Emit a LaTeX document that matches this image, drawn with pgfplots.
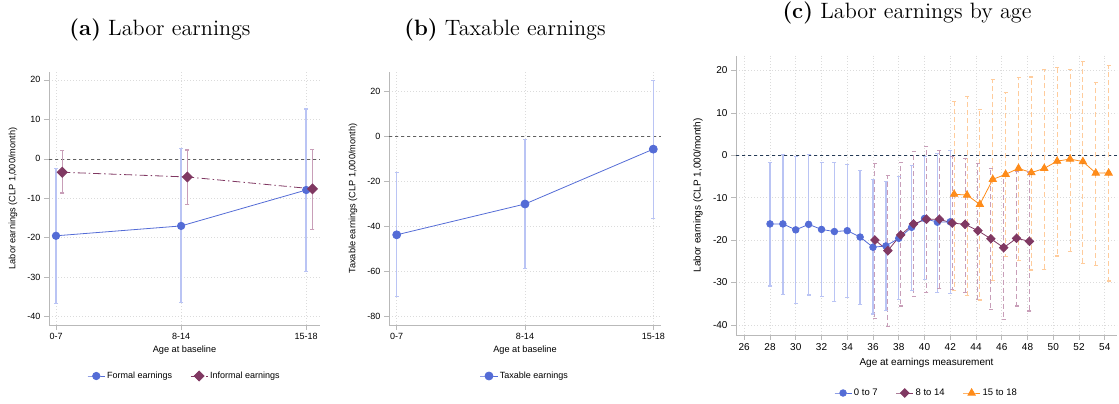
\documentclass[border=0pt]{standalone}
\usepackage{graphicx}
\usepackage{pgfplots}
\pgfplotsset{compat=1.18}
\usepackage{pgfplotstable}
\usepackage{fontspec}
\newfontfamily\lib{Liberation Sans}

\definecolor{sblue}{RGB}{84,108,214}
\definecolor{sbluec}{RGB}{186,196,244}
\definecolor{spurp}{RGB}{128,56,98}
\definecolor{spurpc}{RGB}{200,158,184}
\definecolor{sorng}{RGB}{255,140,26}
\definecolor{sorngc}{RGB}{255,204,156}
\definecolor{snavy}{RGB}{36,58,86}

\pgfplotstableread{
x y lo hi
0 -19.5 -36.5 -2.3
1 -17.0 -36.4 2.6
2 -7.9 -28.4 12.7
}\formal
\pgfplotstableread{
x y lo hi
0.05 -3.4 -8.6 2.1
1.05 -4.6 -11.5 2.3
2.05 -7.6 -17.8 2.5
}\informal
\pgfplotstableread{
x y lo hi
0 -43.6 -71.1 -15.6
1 -29.9 -58.5 -1.3
2 -5.5 -36.1 25.2
}\taxable
\pgfplotstableread{
x y lo hi
28 -16.2 -30.8 -1.7
29 -16.2 -32.7 0.3
30 -17.6 -34.9 -0.2
31 -16.3 -32.9 0.2
32 -17.5 -33.2 -1.7
33 -18.0 -34.5 -1.7
34 -17.8 -33.5 -2.1
35 -19.3 -35.1 -3.5
36 -21.7 -37.4 -5.7
37 -21.4 -36.5 -6.2
38 -19.6 -34.0 -5.0
39 -17.0 -31.8 -2.3
40 -14.9 -29.3 -0.3
41 -15.8 -32.4 0.5
42 -15.7 -32.5 1.2
}\agea
\pgfplotstableread{
x y lo hi
36.15 -20.0 -38.4 -1.9
37.15 -22.5 -40.3 -4.7
38.15 -18.8 -35.5 -1.7
39.15 -16.2 -33.3 1.0
40.15 -15.1 -32.4 2.2
41.15 -15.1 -31.4 1.1
42.15 -16.0 -31.6 -0.3
43.15 -16.3 -32.3 -0.7
44.15 -17.8 -33.9 -1.9
45.15 -19.7 -36.4 -3.1
46.15 -21.8 -38.7 -4.9
47.15 -19.6 -35.5 -3.7
48.15 -20.3 -36.7 -3.9
}\ageb
\pgfplotstableread{
x y lo hi
42.3 -9.2 -31.8 12.7
43.3 -9.4 -33.0 14.0
44.3 -11.6 -34.1 10.8
45.3 -5.7 -29.4 17.9
46.3 -4.5 -23.9 14.9
47.3 -3.1 -24.7 18.3
48.3 -4.1 -27.0 18.5
49.3 -3.1 -26.8 20.3
50.3 -1.4 -23.7 20.7
51.3 -0.9 -22.6 20.3
52.3 -1.5 -25.5 22.1
53.3 -4.2 -25.9 17.2
54.3 -4.2 -29.6 21.3
}\agec

\pgfplotsset{
  stata/.style={
    scale only axis,
    axis x line*=bottom, axis y line*=left,
    axis line style={gray!55, line width=0.6pt, -},
    tick style={gray!55, line width=0.6pt},
    tick align=outside, major tick length=5pt,
    grid=major, major grid style={dash pattern=on 0.7pt off 2.3pt, gray!28, line width=0.6pt},
    /pgf/number format/assume math mode=true,
    legend style={draw=none, fill=none, legend columns=-1, anchor=center,
      /tikz/every even column/.append style={column sep=16pt}},
    legend cell align=left,
    clip=false,
  },
  ci/.style={forget plot, only marks, mark=none,
    error bars/.cd, y dir=both, y explicit},
  cap/.style={forget plot, only marks, mark=-, mark size=2pt, mark options={solid, draw=#1, line width=0.7pt}},
}

\begin{document}
\begin{tikzpicture}
\useasboundingbox (0,0) rectangle (1119pt,404pt);

% ---------- Panel (a)
\begin{axis}[stata, at={(49pt,79pt)}, anchor=south west,
  width=271pt, height=253pt,
  xmin=-0.056, xmax=2.11, ymin=-42.1, ymax=22,
  xtick={0,1,2}, xticklabels={0-7,8-14,15-18},
  ytick={-40,-30,...,20},
  ticklabel style={font=\lib\fontsize{9}{10}\selectfont},
  xlabel={Age at baseline}, ylabel={Labor earnings (CLP 1,000/month)},
  label style={font=\lib\fontsize{9.2}{10}\selectfont},
  xlabel style={at={(axis description cs:0.5,-0.099)}, anchor=center},
  ylabel style={at={(axis description cs:-0.133,0.5)}, anchor=center},
  legend style={at={(0.5,-0.2016)}, font=\lib\fontsize{9}{10}\selectfont},
]
\addplot[forget plot, dashed, gray!75!black, line width=0.6pt] coordinates {(-0.056,0) (2.11,0)};
\addplot[ci, error bar style={sbluec, line width=1.6pt}] table[x=x, y=y, y error plus expr=\thisrow{hi}-\thisrow{y}, y error minus expr=\thisrow{y}-\thisrow{lo}] {\formal};
\addplot[cap=sbluec] table[x=x,y=hi] {\formal};
\addplot[cap=sbluec] table[x=x,y=lo] {\formal};
\addplot[ci, error bar style={spurpc, line width=0.9pt}] table[x=x, y=y, y error plus expr=\thisrow{hi}-\thisrow{y}, y error minus expr=\thisrow{y}-\thisrow{lo}] {\informal};
\addplot[cap=spurpc] table[x=x,y=hi] {\informal};
\addplot[cap=spurpc] table[x=x,y=lo] {\informal};
\addplot[sblue, line width=0.8pt, mark=*, mark size=3.7pt, mark options={fill=sblue, draw=sblue}] table[x=x,y=y] {\formal};
\addlegendentry{Formal earnings}
\addplot[spurp, line width=0.8pt, dash pattern=on 8pt off 3pt on 1.5pt off 3pt, mark=square*, mark size=3.5pt, mark options={rotate=45, solid, fill=spurp, draw=spurp}] table[x=x,y=y] {\informal};
\addlegendentry{Informal earnings}
\end{axis}

% ---------- Panel (b)
\begin{axis}[stata, at={(389pt,79pt)}, anchor=south west,
  width=272pt, height=253pt,
  xmin=-0.06, xmax=2.06, ymin=-83.7, ymax=28.8,
  xtick={0,1,2}, xticklabels={0-7,8-14,15-18},
  ytick={-80,-60,...,20},
  ticklabel style={font=\lib\fontsize{9}{10}\selectfont},
  xlabel={Age at baseline}, ylabel={Taxable earnings (CLP 1,000/month)},
  label style={font=\lib\fontsize{9.2}{10}\selectfont},
  xlabel style={at={(axis description cs:0.5,-0.099)}, anchor=center},
  ylabel style={at={(axis description cs:-0.132,0.5)}, anchor=center},
  legend style={at={(0.5,-0.2016)}, font=\lib\fontsize{9}{10}\selectfont},
]
\addplot[forget plot, dashed, gray!75!black, line width=0.6pt] coordinates {(-0.06,0) (2.06,0)};
\addplot[ci, error bar style={sbluec, line width=1.2pt}] table[x=x, y=y, y error plus expr=\thisrow{hi}-\thisrow{y}, y error minus expr=\thisrow{y}-\thisrow{lo}] {\taxable};
\addplot[cap=sbluec] table[x=x,y=hi] {\taxable};
\addplot[cap=sbluec] table[x=x,y=lo] {\taxable};
\addplot[sblue, line width=0.8pt, mark=*, mark size=4pt, mark options={fill=sblue, draw=sblue}] table[x=x,y=y] {\taxable};
\addlegendentry{Taxable earnings}
\end{axis}

% ---------- Panel (c)
\begin{axis}[stata, at={(736pt,69pt)}, anchor=south west,
  width=381pt, height=279.4pt,
  xmin=25.36, xmax=54.95, ymin=-42.4, ymax=23.5,
  xtick={26,28,...,54},
  ytick={-40,-30,...,20},
  ticklabel style={font=\lib\fontsize{10}{11}\selectfont},
  xlabel={Age at earnings measurement}, ylabel={Labor earnings (CLP 1,000/month)},
  label style={font=\lib\fontsize{10}{11}\selectfont},
  xlabel style={at={(axis description cs:0.5,-0.100)}, anchor=center},
  ylabel style={at={(axis description cs:-0.0997,0.5)}, anchor=center},
  legend style={at={(0.5,-0.2076)}, font=\lib\fontsize{9.5}{10}\selectfont},
]
\addplot[forget plot, dashed, snavy, line width=0.7pt] coordinates {(25.36,0) (54.95,0)};
\addplot[ci, error bar style={sbluec, line width=1.4pt}] table[x=x, y=y, y error plus expr=\thisrow{hi}-\thisrow{y}, y error minus expr=\thisrow{y}-\thisrow{lo}] {\agea};
\addplot[cap=sbluec] table[x=x,y=hi] {\agea};
\addplot[cap=sbluec] table[x=x,y=lo] {\agea};
\addplot[ci, error bar style={spurpc, line width=1pt, dash pattern=on 5pt off 3pt}] table[x=x, y=y, y error plus expr=\thisrow{hi}-\thisrow{y}, y error minus expr=\thisrow{y}-\thisrow{lo}] {\ageb};
\addplot[cap=spurpc] table[x=x,y=hi] {\ageb};
\addplot[cap=spurpc] table[x=x,y=lo] {\ageb};
\addplot[ci, error bar style={sorngc, line width=1pt, dash pattern=on 5pt off 3pt}] table[x=x, y=y, y error plus expr=\thisrow{hi}-\thisrow{y}, y error minus expr=\thisrow{y}-\thisrow{lo}] {\agec};
\addplot[cap=sorngc] table[x=x,y=hi] {\agec};
\addplot[cap=sorngc] table[x=x,y=lo] {\agec};
\addplot[sblue, line width=0.8pt, mark=*, mark size=3.3pt, mark options={fill=sblue, draw=sblue}] table[x=x,y=y] {\agea};
\addlegendentry{0 to 7}
\addplot[spurp, line width=0.8pt, mark=square*, mark size=3pt, mark options={rotate=45, fill=spurp, draw=spurp}] table[x=x,y=y] {\ageb};
\addlegendentry{8 to 14}
\addplot[sorng, line width=0.8pt, mark=triangle*, mark size=4.2pt, mark options={fill=sorng, draw=sorng}] table[x=x,y=y] {\agec};
\addlegendentry{15 to 18}
\end{axis}

% ---------- Titles
\node at (160pt,374pt) {\scalebox{1.85}{\fontsize{12}{14}\selectfont\textbf{(a)} Labor earnings}};
\node at (505pt,374pt) {\scalebox{1.85}{\fontsize{12}{14}\selectfont\textbf{(b)} Taxable earnings}};
\node at (907pt,391pt) {\scalebox{1.85}{\fontsize{12}{14}\selectfont\textbf{(c)} Labor earnings by age}};
\end{tikzpicture}
\end{document}
